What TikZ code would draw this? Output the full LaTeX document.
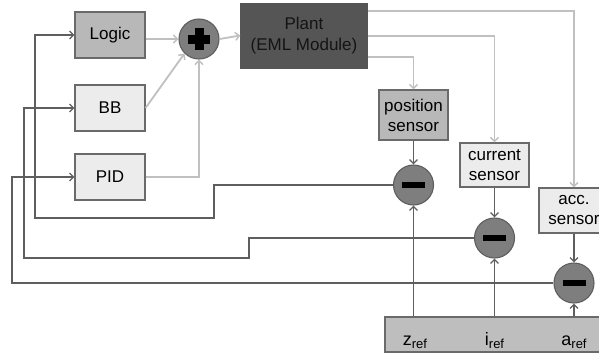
\documentclass[tikz,border=0pt]{standalone}
\usepackage{fontspec}
\setmainfont{Liberation Sans}
\usetikzlibrary{arrows.meta,calc}
\definecolor{edgegray}{HTML}{6A6A6A}
\definecolor{darkline}{HTML}{5E5E5E}
\definecolor{lightline}{HTML}{C0C0C0}
\definecolor{midfill}{HTML}{B8B8B8}
\definecolor{lightfill}{HTML}{ECECEC}
\definecolor{plantfill}{HTML}{555555}
\definecolor{circfill}{HTML}{7E7E7E}
\definecolor{reffill}{HTML}{BEBEBE}
\definecolor{planttext}{HTML}{141414}
\tikzset{
  blk/.style={draw=edgegray, line width=1.1pt, inner sep=0pt, align=center,
    font=\fontsize{17}{20}\selectfont, text=black},
  sumnode/.style={circle, draw=darkline, line width=1.1pt, fill=circfill, minimum size=40pt, inner sep=0pt},
  dconn/.style={draw=darkline, line width=1.5pt, -{Straight Barb[length=4pt,width=8pt,line width=1.3pt]}},
  lconn/.style={draw=lightline, line width=1.8pt, -{Straight Barb[length=4pt,width=8pt,line width=1.5pt]}},
  reflabel/.style={font=\fontsize{18}{20}\selectfont, inner sep=0pt, anchor=base},
}
\begin{document}
\begin{tikzpicture}[x=1pt,y=-1pt]
\useasboundingbox (0,0) rectangle (599,354);
\clip (0,0) rectangle (599,354);
\fill[white] (0,0) rectangle (599,354);

% blocks
\node[blk, fill=midfill, minimum width=70pt, minimum height=46pt] (logic) at (110,35) {Logic};
\node[blk, fill=lightfill, minimum width=70pt, minimum height=46pt] (bb) at (110,108) {BB};
\node[blk, fill=lightfill, minimum width=70pt, minimum height=46pt] (pid) at (110,177) {PID};
\node[sumnode] (plus) at (199,39) {};
\node[draw=plantfill, fill=plantfill, minimum width=127pt, minimum height=65pt, inner sep=0pt] (plant) at (304,35.5) {};
\node[align=center, font=\fontsize{17}{21}\selectfont, text=planttext, inner sep=0pt] (planttxt) at (plant.center) {\color{planttext}Plant\\\color{planttext}(EML Module)};

\node[blk, fill=midfill, minimum width=69pt, minimum height=50pt] (pos) at (413.5,115) {position\\sensor};
\node[blk, fill=lightfill, minimum width=69pt, minimum height=44pt] (cur) at (494.5,165) {current\\sensor};
\node[blk, fill=lightfill, minimum width=70pt, minimum height=45pt] (acc) at (574,210.5) {acc.\\sensor};

\node[sumnode] (m1) at (413.5,185) {};
\node[sumnode] (m2) at (494.5,238) {};
\node[sumnode] (m3) at (574,283) {};

\node[blk, fill=reffill, minimum width=240pt, minimum height=35pt] (ref) at (505,334.5) {};
\node[reflabel] (zr) at (415,345) {z\raisebox{-3pt}{\fontsize{13}{13}\selectfont ref}};
\node[reflabel] (ir) at (494.5,345) {i\raisebox{-3pt}{\fontsize{13}{13}\selectfont ref}};
\node[reflabel] (ar) at (574,345) {a\raisebox{-3pt}{\fontsize{13}{13}\selectfont ref}};

% glyphs in sum nodes
\fill[black] ($(plus.center)+(-11,-4.5)$) rectangle ($(plus.center)+(11,4.5)$);
\fill[black] ($(plus.center)+(-4.5,-11)$) rectangle ($(plus.center)+(4.5,11)$);
\foreach \m in {m1,m2,m3}{
  \fill[black] ($(\m.center)+(-11.5,-3)$) rectangle ($(\m.center)+(11.5,3)$);
}

% light connectors into plus and plant
\draw[lconn] (plus.west -| logic.east) -- (plus.west);
\draw[lconn] (bb.east) -- (plus.south west);
\draw[lconn] (pid.east) -| (plus.south);
\draw[lconn] (plus.east) -- (plant.west);

% plant to sensors
\coordinate (p1) at ($(plant.north east)+(0,8)$);
\coordinate (p2) at ($(plant.north east)+(0,33)$);
\coordinate (p3) at ($(plant.north east)+(0,54)$);
\draw[lconn] (p1) -| (acc.north);
\draw[lconn] (p2) -| (cur.north);
\draw[lconn] (p3) -| (pos.north);

% sensors to minus
\draw[dconn] (pos.south) -- (m1.north);
\draw[dconn] (cur.south) -- (m2.north);
\draw[dconn] (acc.south) -- (m3.north);

% references to minus
\draw[dconn] (m1 |- ref.north) -- (m1.south);
\draw[dconn] (m2 |- ref.north) -- (m2.south);
\draw[dconn] (m3 |- ref.north) -- (m3.south);

% feedback
\draw[dconn] (m1.west) -- (214,185) -- (214,218) -- (35,218) |- (logic.west);
\draw[dconn] (m2.west) -- (249,238) -- (249,258) -- (24,258) |- (bb.west);
\draw[dconn] (m3.west) -- (12,283) |- (pid.west);
\end{tikzpicture}
\end{document}
